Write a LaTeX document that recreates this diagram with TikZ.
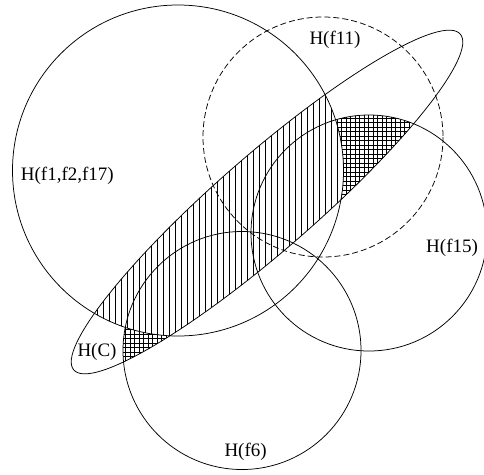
\documentclass[tikz,border=0pt]{standalone}
\usepackage{fontspec}
\setmainfont{Liberation Serif}
\begin{document}
\begin{tikzpicture}[x=1pt,y=-1pt,
  outline/.style={line width=0.75pt},
  hatch/.style={line width=1.1pt},
  gridline/.style={line width=1pt},
  lbl/.style={inner sep=0pt, anchor=base west, font=\fontsize{19}{22}\selectfont}]
\useasboundingbox (0,0) rectangle (484,474);
% vertical hatch: ellipse H(C) inside H(f1,f2,f17)
\begin{scope}
  \clip[rotate around={41:(267,202)}] (267,202) ellipse [x radius=256, y radius=48];
  \clip (178,170.5) circle [radius=165.5];
  \foreach \x in {1.3,7.3,...,481.3} \draw[hatch] (\x,0) -- (\x,474);
\end{scope}
% cross hatch: ellipse inside H(f15) or H(f6), outside H(f1,f2,f17)
\begin{scope}
  \clip[rotate around={41:(267,202)}] (267,202) ellipse [x radius=256, y radius=48];
  \clip (369,233) circle [radius=118] (242,350.5) circle [radius=119];
  \begin{scope}[even odd rule]
    \clip (-10,-10) rectangle (494,484) (178,170.5) circle [radius=165.5];
    \foreach \x in {121.2,125.7,...,422} \draw[gridline] (\x,100) -- (\x,380);
    \foreach \y in {113.8,118.3,...,380} \draw[gridline] (110,\y) -- (430,\y);
  \end{scope}
\end{scope}
% outlines
\draw[outline] (178,170.5) circle [radius=165.5];
\draw[outline, dash pattern=on 6pt off 3pt] (323,137) circle [radius=120];
\draw[outline] (369,233) circle [radius=118];
\draw[outline] (242,350.5) circle [radius=119];
\draw[outline, rotate around={41:(267,202)}] (267,202) ellipse [x radius=256, y radius=48];
% labels
\node[lbl] (l11) at (309.3,44.5) {H(f11)};
\node[lbl] (l1) at (20.7,180) {H(f1,f2,f17)};
\node[lbl] (l15) at (426,252.5) {H(f15)};
\node[lbl] (lc) at (77.3,356.5) {H(C)};
\node[lbl] (l6) at (224.3,456) {H(f6)};
\end{tikzpicture}
\end{document}
